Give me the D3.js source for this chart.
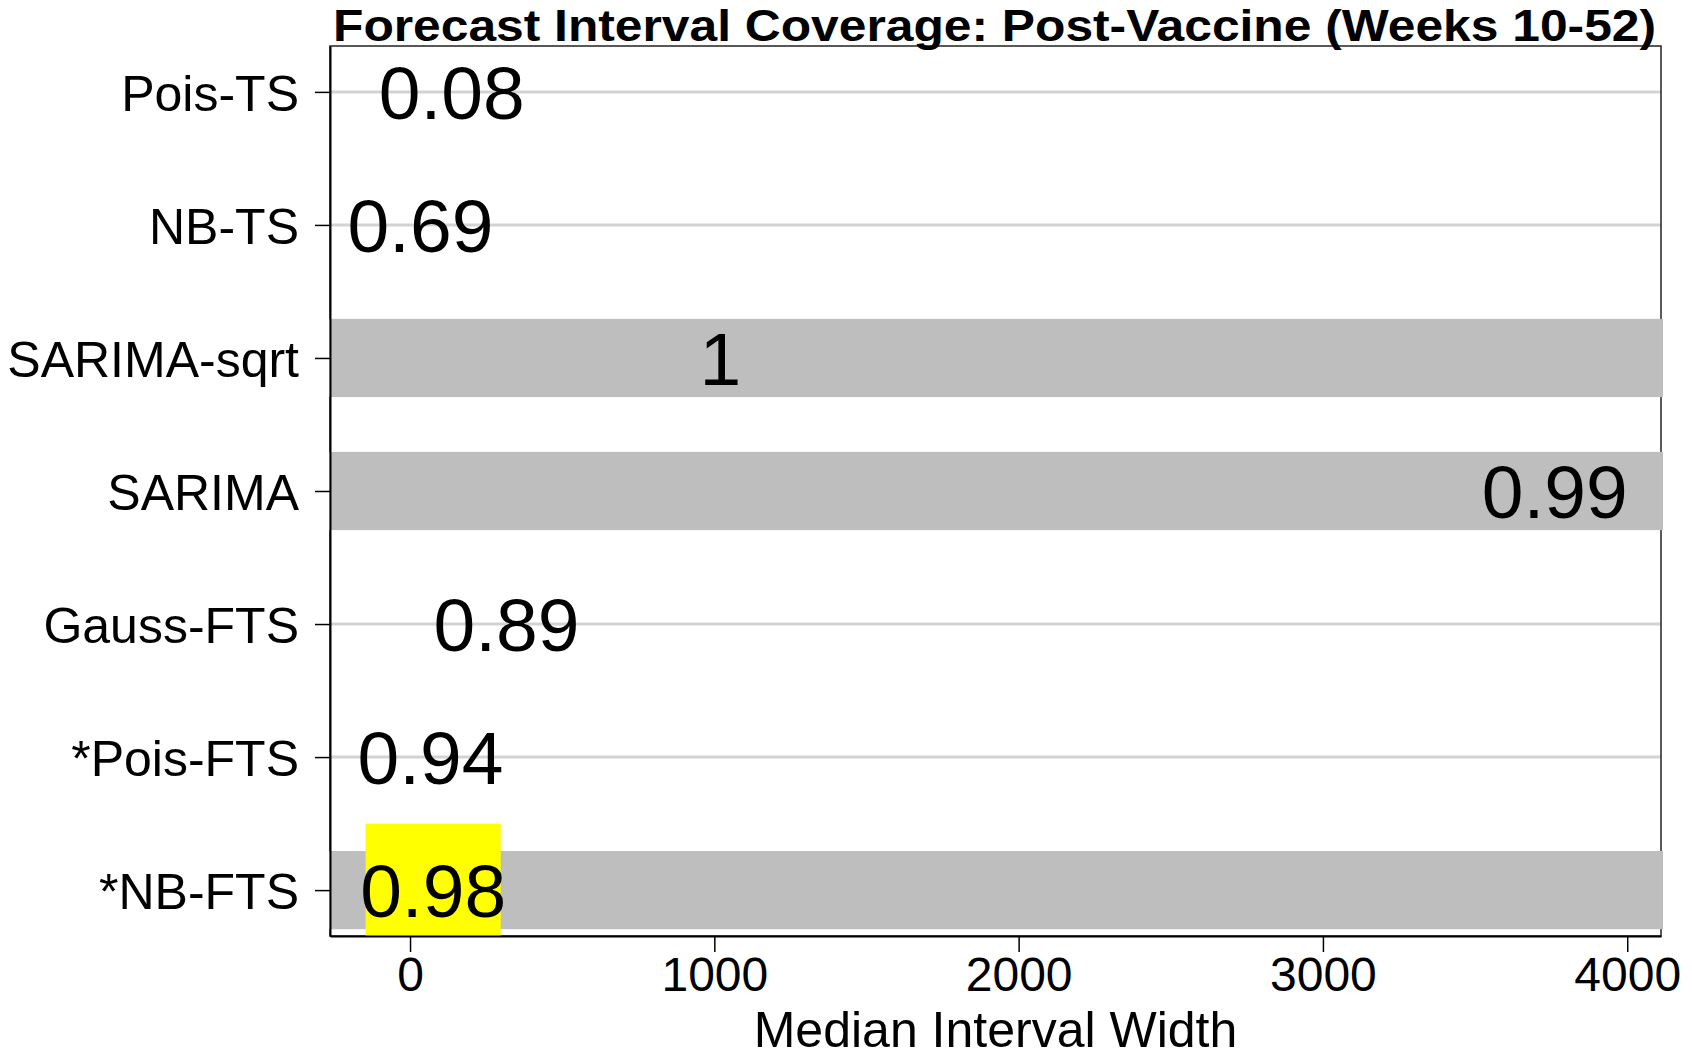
<!DOCTYPE html>
<html>
<head>
<meta charset="utf-8">
<script src="https://cdn.jsdelivr.net/npm/d3@7"></script>
<style>
  html, body { margin: 0; padding: 0; background: #fff; }
  svg { display: block; font-family: "Liberation Sans", Arial, sans-serif; }
</style>
</head>
<body>
<svg id="chart" width="1692" height="1058"></svg>
<script>
// data
const methods = ['Pois-TS', 'NB-TS', 'SARIMA-sqrt', 'SARIMA', 'Gauss-FTS', '*Pois-FTS', '*NB-FTS'];
const coverage = [0.08, 0.69, 1, 0.99, 0.89, 0.94, 0.98];
const medianWidth = [137, 34, 1020, 3762, 317, 67, 76];
const xTicks = [0, 1000, 2000, 3000, 4000];
const highlighted = '*NB-FTS';
const coverageTarget = 0.95;

const title = 'Forecast Interval Coverage: Post-Vaccine (Weeks 10-52)';
const xTitle = 'Median Interval Width';

const rows = methods.map((m, i) => ({
  method: m,
  row: i + 1,
  coverage: coverage[i],
  width: medianWidth[i]
}));

const plot = {left: 330, right: 1661, top: 46, bottom: 936};

const svg = d3.select('#chart');

const xScale = d3.scaleLinear()
  .domain([-263, 4111])
  .range([plot.left, plot.right]);

const yScale = d3.scaleLinear()
  .domain([0.655, 7.345])
  .range([plot.top, plot.bottom]);

// light gridlines per method
svg.append('g')
  .selectAll('line')
  .data(rows)
  .join('line')
    .attr('x1', plot.left)
    .attr('x2', plot.right)
    .attr('y1', d => yScale(d.row))
    .attr('y2', d => yScale(d.row))
    .attr('stroke', '#d3d3d3')
    .attr('stroke-width', 3);

// frame
svg.append('rect')
  .attr('x', plot.left)
  .attr('y', plot.top)
  .attr('width', plot.right - plot.left)
  .attr('height', plot.bottom - plot.top)
  .attr('fill', 'none')
  .attr('stroke', '#222')
  .attr('stroke-width', 1.5);

// grey bands where coverage reaches the target
svg.append('g')
  .selectAll('rect')
  .data(rows.filter(d => d.coverage >= coverageTarget))
  .join('rect')
    .attr('x', plot.left - 1)
    .attr('width', plot.right - plot.left + 3)
    .attr('y', d => yScale(d.row - 0.294))
    .attr('height', d => yScale(d.row + 0.294) - yScale(d.row - 0.294))
    .attr('fill', '#bebebe');

// yellow highlight behind the chosen model
const hl = rows.filter(d => d.method === highlighted);
svg.append('g')
  .selectAll('rect')
  .data(hl)
  .join('rect')
    .attr('x', d => xScale(d.width - 222))
    .attr('width', d => xScale(d.width + 222) - xScale(d.width - 222))
    .attr('y', d => yScale(d.row - 0.5))
    .attr('height', d => Math.min(yScale(d.row + 0.5), plot.bottom) - yScale(d.row - 0.5))
    .attr('fill', '#ffff00');

// axes
const xAxis = d3.axisBottom(xScale)
  .tickValues(xTicks)
  .tickFormat(d3.format('d'))
  .tickSize(16)
  .tickSizeOuter(0)
  .tickPadding(5);

const yAxis = d3.axisLeft(yScale)
  .tickValues(rows.map(d => d.row))
  .tickFormat(r => methods[r - 1])
  .tickSize(15)
  .tickSizeOuter(0)
  .tickPadding(16);

const gx = svg.append('g')
  .attr('transform', `translate(0, ${plot.bottom})`)
  .call(xAxis);

const gy = svg.append('g')
  .attr('transform', `translate(${plot.left}, 0)`)
  .call(yAxis);

gx.select('.domain').attr('stroke', '#000').attr('stroke-width', 2);
gx.selectAll('.tick line').attr('stroke', '#000').attr('stroke-width', 1.5);
gx.selectAll('.tick text')
  .attr('fill', '#000')
  .style('font-size', '48px')
  .style('font-family', '"Liberation Sans", Arial, sans-serif');

gy.select('.domain').attr('stroke', '#000').attr('stroke-width', 2);
gy.selectAll('.tick line').attr('stroke', '#000').attr('stroke-width', 1.5);
gy.selectAll('.tick text')
  .attr('fill', '#000')
  .attr('dy', '0.37em')
  .style('font-size', '50px')
  .style('font-family', '"Liberation Sans", Arial, sans-serif');

// coverage values placed at their median width
svg.append('g')
  .selectAll('text')
  .data(rows)
  .join('text')
    .attr('x', d => xScale(d.width))
    .attr('y', d => yScale(d.row))
    .attr('dy', '0.355em')
    .attr('text-anchor', 'middle')
    .style('font-size', '75px')
    .attr('fill', '#000')
    .text(d => d3.format('~g')(d.coverage));

// titles
svg.append('text')
  .attr('x', 333)
  .attr('y', 41)
  .attr('textLength', 1323)
  .attr('lengthAdjust', 'spacingAndGlyphs')
  .style('font-size', '45px')
  .style('font-weight', 'bold')
  .text(title);

svg.append('text')
  .attr('x', (plot.left + plot.right) / 2)
  .attr('y', 1047)
  .attr('text-anchor', 'middle')
  .style('font-size', '50px')
  .text(xTitle);
</script>
</body>
</html>
